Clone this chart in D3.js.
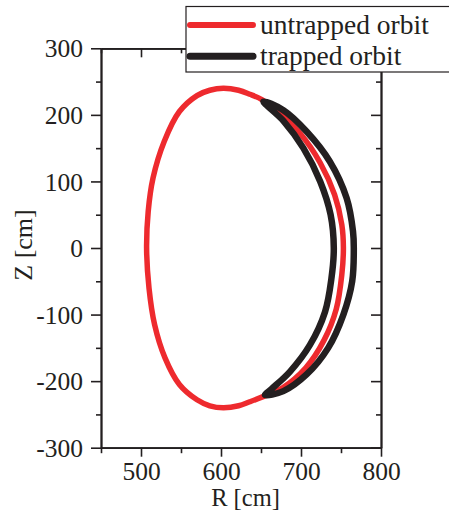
<!DOCTYPE html>
<html>
<head>
<meta charset="utf-8">
<script src="https://cdn.jsdelivr.net/npm/d3@7"></script>
<style>
  html, body { margin: 0; padding: 0; background: #fff; }
  svg { display: block; }
  text { font-family: "Liberation Serif", "Times New Roman", serif; fill: #231f20; }
</style>
</head>
<body>
<svg id="chart" width="449" height="513"></svg>
<script>
// ---- data ----
const untrappedR = [603, 622, 636, 651, 670, 699, 724, 742, 751, 753, 751, 744, 729, 706, 677, 651, 636, 622, 603, 586, 570, 548, 530, 517, 510, 507, 509, 515, 529, 548, 570, 586];
const untrappedZ = [240, 237, 231, 223, 206, 172, 128, 80, 35, 0, -40, -92, -138, -180, -210, -224, -231, -237, -240, -237, -228, -205, -165, -115, -60, 0, 55, 105, 160, 205, 229, 237];

const trappedR = [653, 678, 707, 736, 757, 765, 766, 764, 753, 734, 707, 678, 655, 663, 686, 711, 730, 738, 741, 737, 724, 703, 678];
const trappedZ = [220, 207, 175, 130, 75, 25, 0, -50, -100, -150, -190, -215, -221, -212, -186, -146, -96, -46, 0, 50, 100, 150, 191];

const xMajorTicks = [500, 600, 700, 800];
const xMinorTicks = [450, 550, 650, 750];
const yMajorTicks = [-300, -200, -100, 0, 100, 200, 300];
const yMinorTicks = [-250, -150, -50, 50, 150, 250];

const seriesNames = ["untrapped orbit", "trapped orbit"];
const seriesColors = ["#ee2a2e", "#231f20"];

// ---- layout ----
const svg = d3.select("#chart");
const pL = 101, pR = 381, pT = 48.3, pB = 447.7;
const x = d3.scaleLinear().domain([450, 800]).range([pL, pR]);
const y = d3.scaleLinear().domain([-300, 300]).range([pB, pT]);

const fmt = d => String(d); // hyphen-minus like reference

// ---- curves ----
const line = d3.line().x(d => x(d[0])).y(d => y(d[1])).curve(d3.curveCatmullRomClosed.alpha(0.5));
const redPts = untrappedR.map((r, i) => [r, untrappedZ[i]]);
const blackPts = trappedR.map((r, i) => [r, trappedZ[i]]);

svg.append("path").datum(redPts).attr("d", line)
  .attr("fill", "none").attr("stroke", seriesColors[0]).attr("stroke-width", 5.5)
  .attr("stroke-linejoin", "round");
svg.append("path").datum(blackPts).attr("d", line)
  .attr("fill", "none").attr("stroke", seriesColors[1]).attr("stroke-width", 6.5)
  .attr("stroke-linejoin", "round");

// ---- axes ----
function styleAxis(g) {
  g.attr("font-family", null).attr("font-size", null);
  g.selectAll("path.domain").attr("stroke", "#231f20").attr("stroke-width", 1.8);
  g.selectAll(".tick line").attr("stroke", "#231f20").attr("stroke-width", 1.6);
  g.selectAll(".tick text").style("font-family", "'Liberation Serif', serif").attr("font-size", 25.5).attr("fill", "#231f20");
}

// bottom
svg.append("g").attr("transform", `translate(0,${pB})`)
  .call(d3.axisBottom(x).tickValues(xMinorTicks).tickSize(5.5).tickSizeOuter(0).tickFormat(""))
  .call(styleAxis);
svg.append("g").attr("transform", `translate(0,${pB})`)
  .call(d3.axisBottom(x).tickValues(xMajorTicks).tickSize(9).tickSizeOuter(0).tickFormat(fmt))
  .call(styleAxis)
  .call(g => g.selectAll(".tick text").attr("dy", null).attr("y", 32.8));
// top
svg.append("g").attr("transform", `translate(0,${pT})`)
  .call(d3.axisTop(x).tickValues(xMinorTicks).tickSize(-5).tickSizeOuter(0).tickFormat(""))
  .call(styleAxis);
svg.append("g").attr("transform", `translate(0,${pT})`)
  .call(d3.axisTop(x).tickValues(xMajorTicks).tickSize(-9).tickSizeOuter(0).tickFormat(""))
  .call(styleAxis);
// left
svg.append("g").attr("transform", `translate(${pL},0)`)
  .call(d3.axisLeft(y).tickValues(yMinorTicks).tickSize(5).tickSizeOuter(0).tickFormat(""))
  .call(styleAxis);
svg.append("g").attr("transform", `translate(${pL},0)`)
  .call(d3.axisLeft(y).tickValues(yMajorTicks).tickSize(10).tickSizeOuter(0).tickPadding(8).tickFormat(fmt))
  .call(styleAxis)
  .call(g => g.selectAll(".tick text").attr("dy", "0.34em"));
// right
svg.append("g").attr("transform", `translate(${pR},0)`)
  .call(d3.axisRight(y).tickValues(yMinorTicks).tickSize(-5).tickSizeOuter(0).tickFormat(""))
  .call(styleAxis);
svg.append("g").attr("transform", `translate(${pR},0)`)
  .call(d3.axisRight(y).tickValues(yMajorTicks).tickSize(-10).tickSizeOuter(0).tickFormat(""))
  .call(styleAxis);

// axis titles
svg.append("text").attr("x", 245.5).attr("y", 506).attr("text-anchor", "middle")
  .attr("font-size", 24.5).text("R [cm]");
svg.append("text").attr("transform", "translate(32,245) rotate(-90)").attr("text-anchor", "middle")
  .attr("font-size", 26).text("Z [cm]");

// ---- legend ----
const lg = svg.append("g");
lg.append("rect").attr("x", 186).attr("y", 6.5).attr("width", 270).attr("height", 65.5)
  .attr("fill", "#fff").attr("stroke", "#231f20").attr("stroke-width", 1.2);
const legendY = [25, 56.3];
seriesNames.forEach((name, i) => {
  lg.append("line").attr("x1", 190).attr("x2", 253).attr("y1", legendY[i]).attr("y2", legendY[i])
    .attr("stroke", seriesColors[i]).attr("stroke-width", i === 0 ? 6 : 7).attr("stroke-linecap", "round");
  lg.append("text").attr("x", 260).attr("y", legendY[i] + 9).attr("font-size", 27.5).text(name);
});
</script>
</body>
</html>
